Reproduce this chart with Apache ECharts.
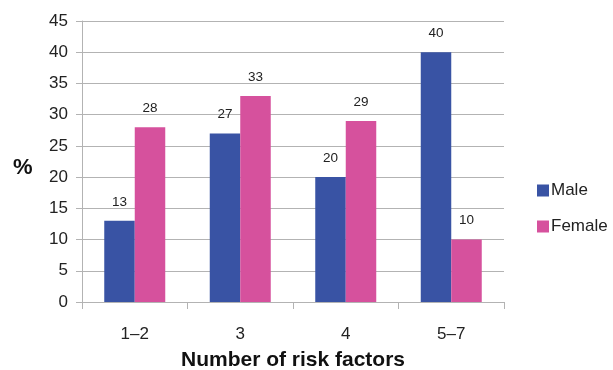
<!DOCTYPE html>
<html>
<head>
<meta charset="utf-8">
<script src="https://cdn.jsdelivr.net/npm/echarts@6/dist/echarts.min.js"></script>
<style>
  html, body { margin: 0; padding: 0; background: #fff; }
  #chart { width: 613px; height: 370px; }
</style>
</head>
<body>
<div id="chart"></div>
<script>
// Share of patients (%) by number of risk factors, split by sex
const categories = ['1\u20132', '3', '4', '5\u20137'];
const maleValues = [13, 27, 20, 40];
const femaleValues = [28, 33, 29, 10];
const yTicks = { min: 0, max: 45, interval: 5 };

const FONT = '"Liberation Sans", Arial, sans-serif';
const chart = echarts.init(document.getElementById('chart'), null, { renderer: 'canvas' });

const barLabel = {
  show: true,
  position: 'top',
  distance: 12,
  color: '#222',
  fontSize: 13.5,
  fontFamily: FONT
};

chart.setOption({
  animation: false,
  backgroundColor: '#fff',
  textStyle: { fontFamily: FONT },
  grid: {
    left: 82, right: 109, top: 21, bottom: 68,
    containLabel: false,
    outerBoundsMode: 'none'
  },
  legend: {
    orient: 'vertical',
    left: 532,
    top: 177,
    itemWidth: 12,
    itemHeight: 12,
    itemGap: 19,
    icon: 'rect',
    textStyle: { fontSize: 17, color: '#222', fontFamily: FONT, padding: [0, 0, 0, -3] },
    data: ['Male', 'Female']
  },
  xAxis: {
    type: 'category',
    data: categories,
    name: 'Number of risk factors',
    nameLocation: 'middle',
    nameGap: 48,
    nameTextStyle: { fontSize: 21, fontWeight: 'bold', color: '#111', fontFamily: FONT },
    axisLine: { lineStyle: { color: '#b3b3b3', width: 1 } },
    axisTick: { show: true, length: 7, lineStyle: { color: '#b3b3b3' } },
    axisLabel: { fontSize: 17, color: '#222', margin: 24, fontFamily: FONT }
  },
  yAxis: {
    type: 'value',
    min: yTicks.min,
    max: yTicks.max,
    interval: yTicks.interval,
    axisLine: { show: true, lineStyle: { color: '#b3b3b3', width: 1 } },
    axisTick: { show: true, length: 6, lineStyle: { color: '#b3b3b3' } },
    splitLine: { show: true, lineStyle: { color: '#b3b3b3', width: 1 } },
    axisLabel: { fontSize: 17, color: '#222', margin: 14, fontFamily: FONT }
  },
  graphic: [{
    type: 'text',
    left: 13,
    top: 157,
    style: { text: '%', fontSize: 22, fontWeight: 'bold', fill: '#111', fontFamily: FONT }
  }],
  series: [
    {
      name: 'Male',
      type: 'bar',
      data: maleValues,
      barWidth: 30.5,
      barGap: '0%',
      itemStyle: { color: '#3953a4' },
      label: barLabel
    },
    {
      name: 'Female',
      type: 'bar',
      data: femaleValues,
      barWidth: 30.5,
      barGap: '0%',
      itemStyle: { color: '#d6519d' },
      label: barLabel
    }
  ]
});
</script>
</body>
</html>
